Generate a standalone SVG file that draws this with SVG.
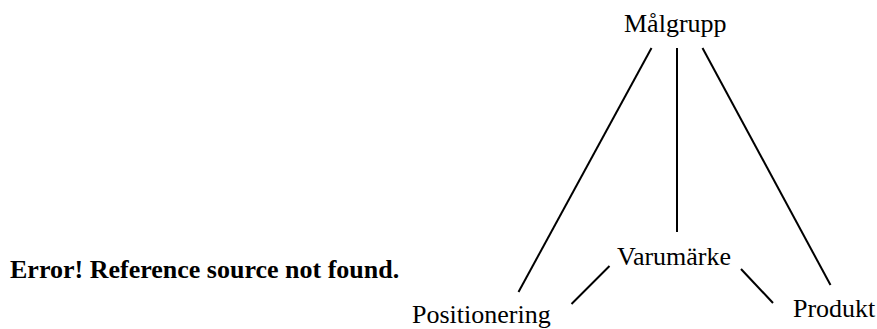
<svg xmlns="http://www.w3.org/2000/svg" width="877" height="329" viewBox="0 0 877 329">
<style>
.t{font-family:"Liberation Serif","Times New Roman",serif;font-size:26px;fill:#000}
.b{font-weight:bold}
.c line{stroke:#000;stroke-width:2;stroke-linecap:butt}
</style>
<rect width="877" height="329" fill="#fff"/>
<g id="connectors" class="c">
<line x1="651.5" y1="48" x2="518.5" y2="292"/>
<line x1="677" y1="48" x2="677" y2="232"/>
<line x1="702.5" y1="48" x2="830.5" y2="285"/>
<line x1="609.5" y1="266" x2="571.5" y2="304"/>
<line x1="741" y1="269" x2="773" y2="303"/>
</g>
<g id="malgrupp"><text class="t" x="624" y="32">Målgrupp</text></g>
<g id="varumarke"><text class="t" x="617" y="265">Varumärke</text></g>
<g id="positionering"><text class="t" x="412" y="323">Positionering</text></g>
<g id="produkt"><text class="t" x="793" y="317">Produkt</text></g>
<g id="error"><text class="t b" x="10" y="278">Error! Reference source not found.</text></g>
</svg>
